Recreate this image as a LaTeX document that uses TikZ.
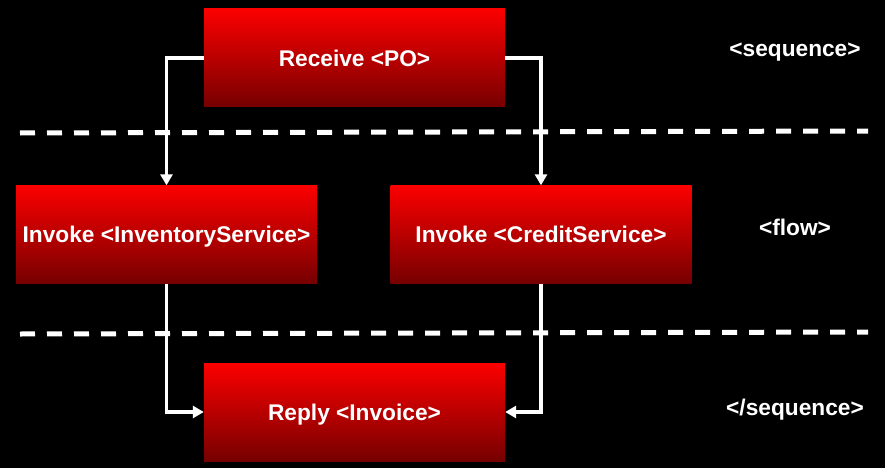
\documentclass[tikz,border=0pt]{standalone}
\usepackage{fontspec}
\setmainfont{Liberation Sans}
\usetikzlibrary{arrows.meta}
\definecolor{boxtop}{RGB}{252,0,0}
\definecolor{boxbot}{RGB}{118,0,0}
\begin{document}
\begin{tikzpicture}[x=1pt,y=-1pt,
  box/.style={rectangle, minimum width=301pt, minimum height=98pt, inner sep=0pt,
    top color=boxtop, bottom color=boxbot, draw=none, text=white,
    text height=16.3pt, text depth=0pt,
    font=\bfseries\fontsize{22.7}{26}\selectfont},
  flowline/.style={draw=white, line width=3.5pt, -{Triangle[width=12pt,length=11pt]}},
  sepline/.style={draw=white, line width=5pt, dash pattern=on 15pt off 12pt},
  tag/.style={text=white, text height=16.3pt, text depth=0pt,
    font=\bfseries\fontsize{22.7}{26}\selectfont}]
\useasboundingbox (0,0) rectangle (885,468);
\fill[black] (0,0) rectangle (885,468);
% boxes
\node[box] (recv) at (354.5,58) {Receive <PO>};
\node[box] (inv) at (166.5,234.5) {Invoke <InventoryService>};
\node[box] (cred) at (541,234.5) {Invoke <CreditService>};
\node[box] (reply) at (354.5,412) {Reply <Invoice>};
% separators
\coordinate (s1a) at (20,133);
\coordinate (s1b) at (868,131);
\coordinate (s2a) at (20,334);
\coordinate (s2b) at (868,332);
\draw[sepline] (s1a) -- (s1b);
\draw[sepline] (s2a) -- (s2b);
% connectors
\draw[flowline] (recv.west) -| (inv.north);
\draw[flowline] (recv.east) -| (cred.north);
\draw[flowline] (inv.south) |- (reply.west);
\draw[flowline] (cred.south) |- (reply.east);
% tags
\node[tag] (t1) at (795,48) {<sequence>};
\node[tag] (t2) at (795,227) {<flow>};
\node[tag] (t3) at (795,407) {</sequence>};
\end{tikzpicture}
\end{document}
